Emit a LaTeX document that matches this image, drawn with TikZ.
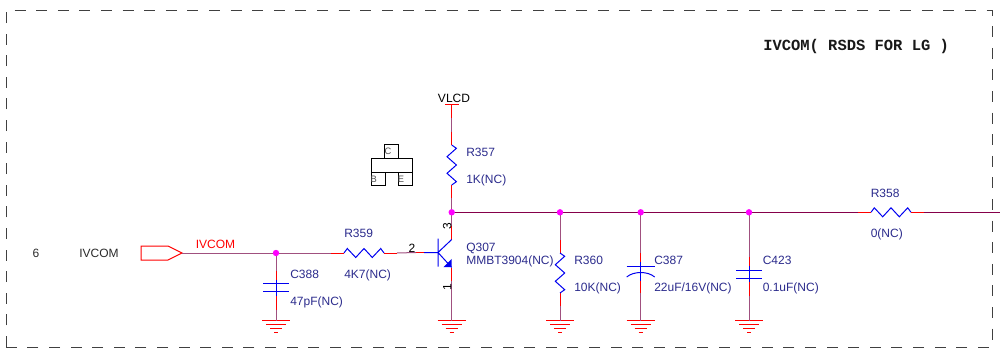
\documentclass[tikz,border=0pt]{standalone}
\usepackage{fontspec}
\setmainfont{Liberation Sans}
\newfontfamily\titlefont{Liberation Mono}
\usetikzlibrary{positioning,arrows.meta}
\definecolor{netcol}{HTML}{85004A}
\definecolor{softcol}{HTML}{A0507F}
\definecolor{partcol}{HTML}{0000F0}
\definecolor{dotcol}{HTML}{FF00FF}
\definecolor{reftext}{HTML}{2B2B8C}
\definecolor{plaintext}{HTML}{2A2A2A}
\tikzset{
    wire/.style={netcol, line width=.75pt},
    softwire/.style={softcol, line width=.75pt},
    lead/.style={red, line width=.75pt},
    part/.style={partcol, line width=.75pt},
    junction/.style={circle, fill=dotcol, inner sep=0pt, minimum size=4.8pt},
    reflabel/.style={anchor=west, inner sep=0pt, text=reftext, font=\fontsize{9}{9}\selectfont,
        text height=6.5pt, text depth=0pt},
    netlabel/.style={anchor=center, inner sep=0pt, text=plaintext, font=\fontsize{9}{9}\selectfont,
        text height=6.5pt, text depth=0pt},
    pinlabel/.style={netlabel, text=black},
    pkgbox/.style={draw=black, line width=.75pt},
    pkgletter/.style={anchor=center, inner sep=0pt, text=black!70, font=\fontsize{7}{7}\selectfont},
    resh/.pic={
        \coordinate (-a) at (-33,0);
        \coordinate (-b) at (33,0);
        \draw [lead] (-a)--(-20,0) (20,0)--(-b);
        \draw [part] (-20,0)--(-16.7,-4.5)--(-8.3,4.5)--(0,-4.5)--(8.3,4.5)--(16.7,-4.5)--(20,0);
    },
    resv/.pic={
        \coordinate (-a) at (0,-33);
        \coordinate (-b) at (0,33);
        \draw [lead] (-a)--(0,-20) (0,20)--(-b);
        \draw [part] (0,-20)--(4.7,-16.7)--(-4.7,-8.3)--(4.7,0)--(-4.7,8.3)--(4.7,16.7)--(0,20);
    },
    capn/.pic={
        \coordinate (-a) at (0,-17);
        \coordinate (-b) at (0,22);
        \draw [lead] (-a)--(0,-8) (0,8)--(-b);
        \draw [part] (0,-8)--(0,8) (-13,-4)--(13,-4) (-13,4)--(13,4);
    },
    capp/.pic={
        \coordinate (-a) at (0,-19);
        \coordinate (-b) at (0,21);
        \draw [lead] (-a)--(0,-10) (0,9)--(-b);
        \draw [part] (0,-10)--(0,9) (-14,-5.5)--(14,-5.5);
        \draw [part] (-14,5) .. controls (-7,-1) and (7,-1) .. (14,5);
    },
    gnd/.pic={
        \coordinate (-a) at (0,0);
        \draw [lead] (-14,0)--(14,0) (-10,4)--(10,4) (-6,8)--(6,8) (-2,12)--(2,12);
    },
    npn/.pic={
        \coordinate (-b) at (-22,0);
        \coordinate (-c) at (13.7,-27);
        \coordinate (-e) at (13.7,28);
        \draw [lead] (-b)--(-14,0) (13.7,-13)--(-c) (13.7,15)--(-e);
        \draw [part] (-14,0)--(0,0) (0,-14)--(0,14) (0,0)--(13.7,-13) (0,0)--(13.7,15);
        \fill [partcol] (13.7,6.3)--(13.7,14.7)--(5.3,14.7)--cycle;
    }
}

\begin{document}
\begin{tikzpicture}[x=.75pt, y=-.75pt]
\useasboundingbox (0,0) rectangle (1000,350);

% frame
\draw [black!75, line width=.75pt, dash pattern=on 8.2pt off 8pt]
    (6,347)--(6,10)--(992,10)--(992,347)--cycle;

% port
\coordinate (portR) at (182,253);
\draw [lead] (portR)--(168,246)--(141,246)--(141,260)--(168,260)--cycle;

% net points
\coordinate (J0) at (276,253);
\coordinate (J1) at (451.7,212.3);
\coordinate (J2) at (560,212.3);
\coordinate (J3) at (640.7,212.3);
\coordinate (J4) at (749,212.3);

% parts
\pic (R359) at (364,253) {resh};
\pic (R358) at (891,212.3) {resh};
\pic (R357) at (451.7,165) {resv};
\pic (R360) at (560,273) {resv};
\pic (C388) at (276,287.5) {capn};
\pic (C423) at (749,274) {capn};
\pic (C387) at (640.7,272) {capp};
\pic (Q307) at (438,252.5) {npn};
\foreach \g/\x in {G1/276, G2/451.7, G3/560, G4/640.7, G5/749}
    \pic (\g) at (\x,320.7) {gnd};

% supply
\coordinate (vlcdT) at (451.7,104);
\coordinate (vlcdB) at (451.7,118);
\draw [lead] (445,104)--(459,104) (vlcdT)--(vlcdB);

% right end of the net
\coordinate (netR) at (1000,212.3);

% wires
\draw [softwire] (portR)--(J0);
\draw [softwire] (J0)--(R359-a);
\draw [softwire] (J0)--(C388-a);
\draw [softwire] (C388-b)--(G1-a);
\draw [softwire] (R359-b)--(Q307-b);
\draw [softwire] (vlcdB)--(R357-a);
\draw [softwire] (R357-b)--(J1);
\draw [softwire] (J1)--(Q307-c);
\draw [softwire] (Q307-e)--(G2-a);
\draw [wire] (J1)--(J2);
\draw [wire] (J2)--(J3);
\draw [wire] (J3)--(J4);
\draw [wire] (J4)--(R358-a);
\draw [wire] (R358-b)--(netR);
\draw [softwire] (J2)--(R360-a);
\draw [softwire] (R360-b)--(G3-a);
\draw [softwire] (J3)--(C387-a);
\draw [softwire] (C387-b)--(G4-a);
\draw [softwire] (J4)--(C423-a);
\draw [softwire] (C423-b)--(G5-a);

% dots on top of the wires
\foreach \i in {0,...,4}
    \node [junction] (dot\i) at (J\i) {};

% package outline
\draw [pkgbox] (371,158) rectangle (412,172);
\node [pkgbox, minimum width=10.5pt, minimum height=10pt, inner sep=0pt] (pkgC) at (391,151.5) {};
\node [pkgbox, minimum width=10.5pt, minimum height=10pt, inner sep=0pt] (pkgB) at (378,179) {};
\node [pkgbox, minimum width=10.5pt, minimum height=10pt, inner sep=0pt] (pkgE) at (405,179) {};
\node [pkgletter, xshift=-2.2pt] at (pkgC) {C};
\node [pkgletter, xshift=-3.2pt] at (pkgB) {B};
\node [pkgletter, xshift=-3pt] at (pkgE) {E};

% text
\node [anchor=west, inner sep=0pt, font=\titlefont\bfseries\fontsize{11.6}{11.6}\selectfont, text=black!90]
    (title) at (763,46) {IVCOM( RSDS FOR LG )};
\node [netlabel] (sheetNo) at (36,253) {6};
\node [netlabel] (sheetNet) at (99,253) {IVCOM};
\node [netlabel, text=red] (netName) at (215.5,244.5) {IVCOM};
\node [pinlabel] (vlcdText) at (454,98) {VLCD};
\foreach \lbl/\px/\py/\txt in {
    a/290/274/C388, b/290/301/47pF(NC),
    c/344/233/R359, d/344/274/4K7(NC),
    e/466/247/Q307, f/466/260/MMBT3904(NC),
    g/466/152/R357, h/466/179/1K(NC),
    i/574/260/R360, j/574/287/10K(NC),
    k/654/260/C387, l/654/287/22uF\slash 16V(NC),
    m/762.5/260/C423, n/762.5/287/0.1uF(NC),
    o/870.5/193/R358, p/870.5/233/0(NC)}
    \node [reflabel] (lbl\lbl) at (\px,\py) {\txt};
\node [pinlabel] (pin2) at (412,248) {2};
\node [pinlabel, rotate=90] (pin3) at (447,226) {3};
\node [pinlabel, rotate=90] (pin1) at (447,287) {1};

\end{tikzpicture}
\end{document}
